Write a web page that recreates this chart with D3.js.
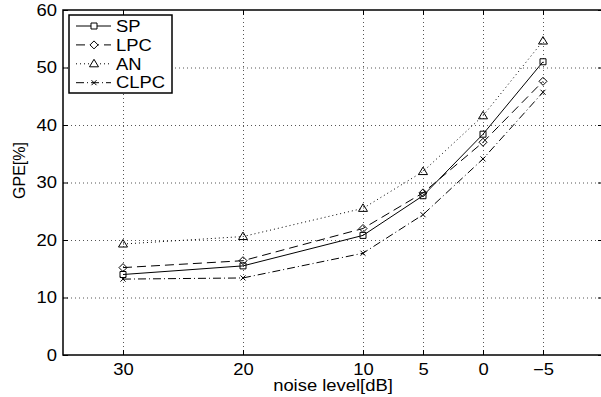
<!DOCTYPE html>
<html>
<head>
<meta charset="utf-8">
<script src="https://cdn.jsdelivr.net/npm/d3@7"></script>
<style>
body { margin: 0; background: #fff; }
text { font-family: "Liberation Sans", Arial, sans-serif; fill: #000; }
</style>
</head>
<body>
<script>
// data
var noiseLabels = ["30", "20", "10", "5", "0", "\u22125"];
var noiseSlots = [0, 2, 4, 5, 6, 7];   // tick spacing on the original axis
var yTicks = [0, 10, 20, 30, 40, 50, 60];
var seriesNames = ["SP", "LPC", "AN", "CLPC"];
var spValues = [14.0, 15.5, 20.8, 27.7, 38.4, 51.0];
var lpcValues = [15.2, 16.4, 22.0, 28.2, 37.0, 47.6];
var anValues = [19.3, 20.6, 25.5, 31.9, 41.6, 54.6];
var clpcValues = [13.2, 13.4, 17.7, 24.4, 34.1, 45.7];

var svgWidth = 601, svgHeight = 397;
var margin = { top: 10, right: -2, bottom: 42, left: 63 };
var width = svgWidth - margin.left - margin.right;
var height = svgHeight - margin.top - margin.bottom;

var svg = d3.select("body").append("svg")
    .attr("width", svgWidth)
    .attr("height", svgHeight);

var g = svg.append("g")
    .attr("transform", `translate(${margin.left}, ${margin.top})`);

var x = d3.scaleLinear().domain([-1, 8]).range([0, width]);
var y = d3.scaleLinear().domain([0, 60]).range([height, 0]);

var fontSize = 16;
// the original text is a bit wider than Liberation Sans at this height
var stretch = 1.15;

// dotted grid
g.append("g")
    .attr("class", "grid")
    .call(d3.axisBottom(x).tickValues(noiseSlots).tickSize(height).tickFormat(""));
g.append("g")
    .attr("class", "grid")
    .call(d3.axisLeft(y).tickValues(yTicks.slice(1, -1)).tickSize(-width).tickFormat(""));
g.selectAll(".grid .domain").remove();
g.selectAll(".grid line")
    .attr("stroke", "#555")
    .attr("stroke-dasharray", "1,3");

// axes with inward ticks
var xAxis = d3.axisBottom(x).tickValues(noiseSlots)
    .tickFormat((d, i) => noiseLabels[i])
    .tickSizeInner(-5).tickSizeOuter(0).tickPadding(9);
var yAxis = d3.axisLeft(y).tickValues(yTicks)
    .tickSizeInner(-5).tickSizeOuter(0).tickPadding(6);

g.append("g").attr("class", "axis")
    .attr("transform", `translate(0, ${height})`)
    .call(xAxis);
g.append("g").attr("class", "axis")
    .call(yAxis);
g.append("g").attr("class", "axis")
    .call(d3.axisTop(x).tickValues(noiseSlots).tickSizeInner(-5).tickSizeOuter(0).tickFormat(""));
g.append("g").attr("class", "axis")
    .attr("transform", `translate(${width}, 0)`)
    .call(d3.axisRight(y).tickValues(yTicks).tickSizeInner(-5).tickSizeOuter(0).tickFormat(""));

g.selectAll(".axis .domain").remove();
g.selectAll(".axis line").attr("stroke", "#000");
g.selectAll(".axis text")
    .attr("class", "wide")
    .attr("font-size", fontSize)
    .attr("font-family", "Liberation Sans, Arial, sans-serif");

g.append("rect")
    .attr("width", width)
    .attr("height", height)
    .attr("fill", "none")
    .attr("stroke", "#000")
    .attr("stroke-width", 1.5);

// axis titles
g.append("text")
    .attr("class", "wide")
    .attr("x", x(3.5))
    .attr("y", height + 36)
    .attr("text-anchor", "middle")
    .attr("font-size", fontSize)
    .text("noise level[dB]");
g.append("text")
    .attr("transform", `translate(-38, ${height / 2 - 12}) rotate(-90)`)
    .attr("text-anchor", "middle")
    .attr("font-size", fontSize)
    .text("GPE[%]");

// series
var series = [
    { name: seriesNames[0], values: spValues, dash: null, marker: "square" },
    { name: seriesNames[1], values: lpcValues, dash: "9,5", marker: "diamond" },
    { name: seriesNames[2], values: anValues, dash: "1,3", marker: "triangle" },
    { name: seriesNames[3], values: clpcValues, dash: "8,3,1,3", marker: "cross" }
];

function markerPath(type) {
    if (type == "square") return "M-3,-3H3V3H-3Z";
    if (type == "diamond") return "M0,-4L4,0L0,4L-4,0Z";
    if (type == "triangle") return "M0,-4.5L4.5,3L-4.5,3Z";
    return "M-2.5,-2.5L2.5,2.5M-2.5,2.5L2.5,-2.5";
}

var line = d3.line()
    .x((d, i) => x(noiseSlots[i]))
    .y(d => y(d));

series.forEach(function (s) {
    g.append("path")
        .datum(s.values)
        .attr("d", line)
        .attr("fill", "none")
        .attr("stroke", "#000")
        .attr("stroke-width", 1)
        .attr("stroke-dasharray", s.dash);
    g.selectAll(".m-" + s.name)
        .data(s.values)
        .enter()
        .append("path")
        .attr("class", "m-" + s.name)
        .attr("d", markerPath(s.marker))
        .attr("transform", (d, i) => `translate(${x(noiseSlots[i])}, ${y(d)})`)
        .attr("fill", "none")
        .attr("stroke", "#000")
        .attr("stroke-width", 1);
});

// legend
var legend = svg.append("g").attr("transform", "translate(69, 15)");
legend.append("rect")
    .attr("width", 103)
    .attr("height", 78)
    .attr("fill", "#fff")
    .attr("stroke", "#000")
    .attr("stroke-width", 1.5);
series.forEach(function (s, i) {
    var row = legend.append("g").attr("transform", `translate(0, ${11 + i * 18.9})`);
    row.append("line")
        .attr("x1", 7).attr("x2", 42)
        .attr("stroke", "#000")
        .attr("stroke-dasharray", s.dash);
    row.append("path")
        .attr("d", markerPath(s.marker))
        .attr("transform", "translate(25, 0)")
        .attr("fill", "#fff")
        .attr("stroke", "#000");
    row.append("text")
        .attr("class", "wide")
        .attr("x", 47)
        .attr("dy", "0.36em")
        .attr("font-size", fontSize)
        .text(s.name);
});

// widen the horizontal texts
svg.selectAll("text.wide").each(function () {
    var len = this.getComputedTextLength();
    d3.select(this)
        .attr("textLength", len * stretch)
        .attr("lengthAdjust", "spacingAndGlyphs");
});
</script>
</body>
</html>
